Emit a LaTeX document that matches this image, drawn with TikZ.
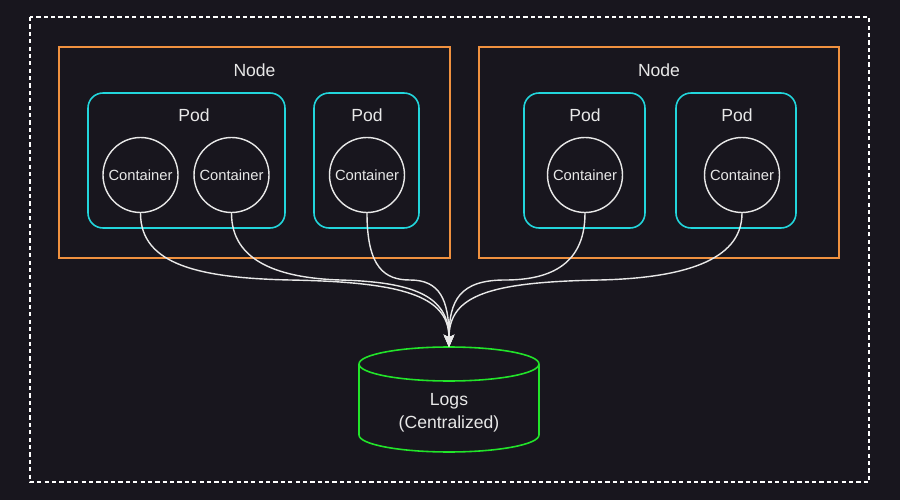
\documentclass[tikz,border=0pt]{standalone}
\usepackage{fontspec}
\setmainfont{Liberation Sans}
\usetikzlibrary{arrows.meta}
\definecolor{bg}{HTML}{18161E}
\definecolor{nodeorange}{HTML}{F0913F}
\definecolor{podcyan}{HTML}{22D6DC}
\definecolor{loggreen}{HTML}{22E42A}
\definecolor{linegray}{HTML}{E8E8E8}
\tikzset{
  knode/.style={draw=nodeorange, line width=0.8pt},
  kpod/.style={draw=podcyan, line width=0.9pt, rounded corners=0.3cm},
  kcont/.style={circle, draw=linegray, line width=0.8pt, minimum size=1.5cm, inner sep=0pt, text=linegray, font=\fontsize{8.4}{10}\selectfont},
  klabel/.style={text=linegray, font=\fontsize{10}{12}\selectfont, inner sep=0pt},
  kflow/.style={draw=linegray, line width=0.8pt, -{Stealth[length=7pt, width=6pt, inset=1.5pt]}},
}
\begin{document}
\begin{tikzpicture}[x=0.02cm, y=-0.02cm]
\fill[bg] (0,0) rectangle (900,500);
\useasboundingbox (0,0) rectangle (900,500);
% outer dashed frame
\draw[white, line width=0.7pt, dash pattern=on 2.4pt off 1.8pt] (30,17) rectangle (869,482);
% Nodes
\draw[knode] (59,47) rectangle (450,258);
\draw[knode] (479,47) rectangle (839,258);
\node[klabel] (n1) at (254.5,70) {Node};
\node[klabel] (n2) at (659,70) {Node};
% Pods
\draw[kpod] (88,93) rectangle (285,228);
\draw[kpod] (314,93) rectangle (419,228);
\draw[kpod] (524,93) rectangle (645,228);
\draw[kpod] (676,93) rectangle (796,228);
\node[klabel] (p1) at (194,115) {Pod};
\node[klabel] (p2) at (367,115) {Pod};
\node[klabel] (p3) at (585,115) {Pod};
\node[klabel] (p4) at (737,115) {Pod};
% Containers
\node[kcont] (c1) at (140.5,175) {Container};
\node[kcont] (c2) at (231.5,175) {Container};
\node[kcont] (c3) at (367,175) {Container};
\node[kcont] (c4) at (585,175) {Container};
\node[kcont] (c5) at (742,175) {Container};
% Logs cylinder
\draw[draw=loggreen, line width=0.9pt] (449,364) ellipse [x radius=1.8cm, y radius=0.34cm];
\draw[draw=loggreen, line width=0.9pt] (359,364) -- (359,435) arc[start angle=180, end angle=360, x radius=1.8cm, y radius=0.34cm] -- (539,364);
\node[klabel, align=center, font=\fontsize{10}{13}\selectfont] (logs) at (449,413) {Logs\\(Centralized)};
\coordinate (T) at (449,347);
% Flows
\draw[kflow] (c1.south) .. controls (140.5,265) and (200,278) .. (290,280) .. controls (400,282) and (449,295) .. (T);
\draw[kflow] (c2.south) .. controls (231.5,262) and (280,278) .. (340,280) .. controls (412,282) and (449,295) .. (T);
\draw[kflow] (c3.south) .. controls (367,268) and (385,280) .. (410,280) .. controls (440,280) and (449,300) .. (T);
\draw[kflow] (c4.south) .. controls (585,268) and (545,280) .. (505,280) .. controls (460,280) and (449,300) .. (T);
\draw[kflow] (c5.south) .. controls (742,262) and (680,278) .. (600,280) .. controls (490,282) and (449,295) .. (T);
\end{tikzpicture}
\end{document}
